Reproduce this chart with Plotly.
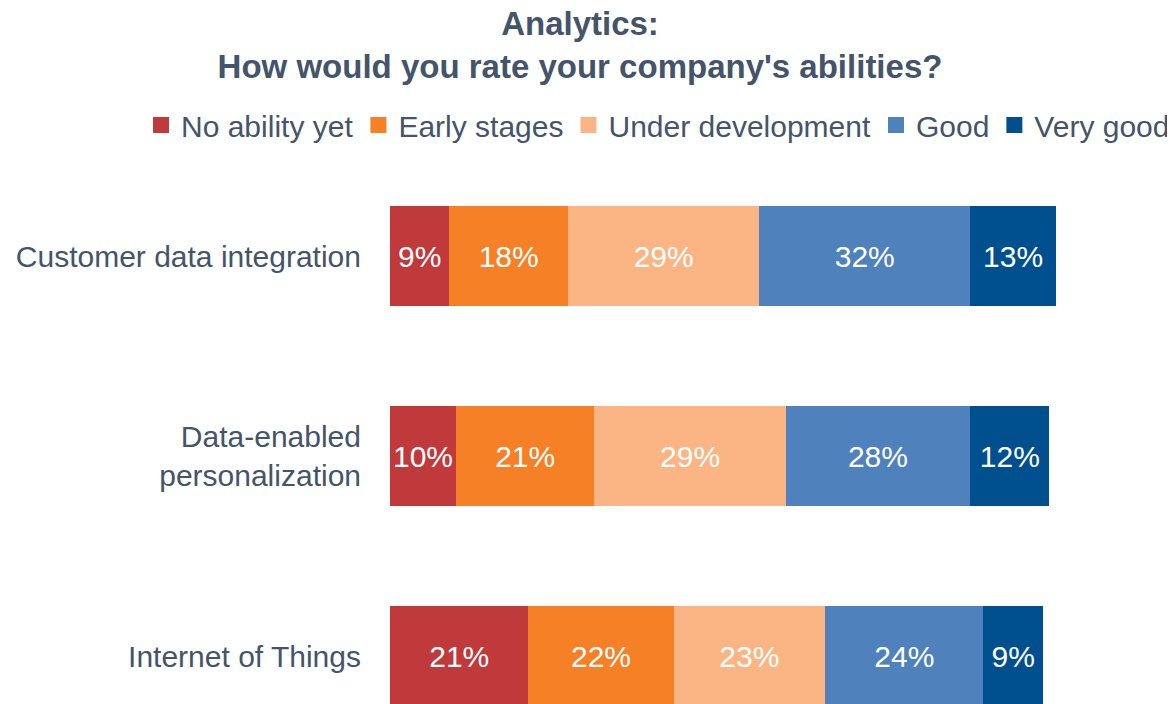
import plotly.graph_objects as go

categories = ["Customer data integration", "Data-enabled<br>personalization", "Internet of Things"]
series_names = ["No ability yet", "Early stages", "Under development", "Good", "Very good"]
no_ability = [9, 10, 21]
early = [18, 21, 22]
under_dev = [29, 29, 23]
good = [32, 28, 24]
very_good = [13, 12, 9]
colors = ["#C0393B", "#F58025", "#FBB584", "#4F81BD", "#00508F"]

values = [no_ability, early, under_dev, good, very_good]
text_color = "#44546A"
font_family = "Liberation Sans, Arial, sans-serif"

# page body has an 8px margin, so the figure is sized to fit the window
W, H = 1167, 696
L, R, T, B = 382, 10, 148, 0
plot_w = W - L - R
plot_h = H - T - B

fig = go.Figure()
for name, vals, col in zip(series_names, values, colors):
    fig.add_trace(go.Bar(
        y=categories, x=vals, name=name, orientation="h",
        marker=dict(color=col, line=dict(width=0)),
        text=[f"{v}%" for v in vals], textposition="inside",
        insidetextanchor="middle", textangle=0,
        textfont=dict(color="white", size=30, family=font_family),
        constraintext="none", showlegend=False,
    ))
# legend entries with larger square swatches
for name, col in zip(series_names, colors):
    fig.add_trace(go.Scatter(
        x=[None], y=[None], mode="markers", name=name,
        marker=dict(symbol="square", size=16, color=col), hoverinfo="skip",
    ))

fig.update_layout(
    barmode="stack", bargap=0.5,
    width=W, height=H,
    margin=dict(l=L, r=R, t=T, b=B),
    paper_bgcolor="white", plot_bgcolor="white",
    font=dict(family=font_family, color=text_color, size=30),
    title=dict(
        text="<b>Analytics:</b><br><b>How would you rate your company's abilities?</b>",
        x=572 / W, xref="container", xanchor="center",
        y=1 - 27 / H, yref="container", yanchor="middle",
        font=dict(size=33, color=text_color, family=font_family),
    ),
    legend=dict(
        orientation="h", xref="paper", x=(145 - L) / plot_w, xanchor="left",
        yref="paper", y=(H - B - 117) / plot_h, yanchor="middle",
        font=dict(size=30, color=text_color), traceorder="normal",
        itemwidth=30, itemsizing="trace", bgcolor="rgba(0,0,0,0)", borderwidth=0,
    ),
)
fig.update_xaxes(range=[0, plot_w / 6.594], visible=False, showgrid=False, zeroline=False)
fig.update_yaxes(range=[2.24, -0.5], showgrid=False, zeroline=False, showline=False,
                 ticks="", ticklabelstandoff=28, tickfont=dict(size=30, color=text_color))

fig.write_html("out.html")
